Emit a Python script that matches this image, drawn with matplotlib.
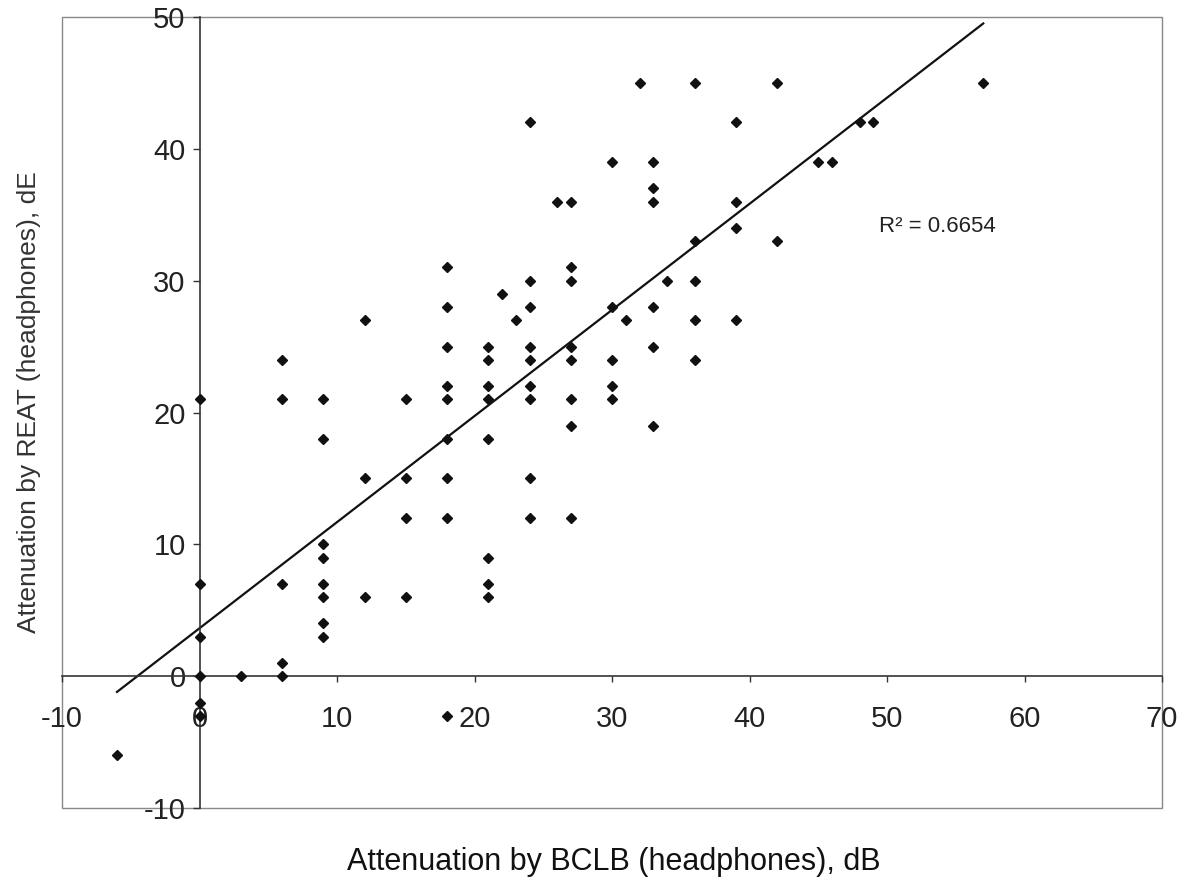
import numpy as np
import matplotlib
matplotlib.use('Agg')
import matplotlib.pyplot as plt
from matplotlib import font_manager
from matplotlib.patches import Rectangle

# Attenuation by BCLB (x) vs REAT (y)
bclb = [-6,
        0, 0, 0, 0, 0, 0,
        3,
        6, 6, 6, 6, 6,
        9, 9, 9, 9, 9, 9, 9, 9,
        12, 12, 12,
        15, 15, 15, 15,
        18, 18, 18, 18, 18, 18, 18, 18, 18,
        21, 21, 21, 21, 21, 21, 21, 21,
        22, 23,
        24, 24, 24, 24, 24, 24, 24, 24, 24,
        26,
        27, 27, 27, 27, 27, 27, 27, 27,
        30, 30, 30, 30, 30,
        31, 32,
        33, 33, 33, 33, 33, 33,
        34,
        36, 36, 36, 36, 36,
        39, 39, 39, 39,
        42, 42,
        45, 46, 48, 49, 57]
reat = [-6,
        21, 7, 3, 0, -2, -3,
        0,
        24, 21, 7, 1, 0,
        21, 18, 10, 9, 7, 6, 4, 3,
        27, 15, 6,
        21, 15, 12, 6,
        31, 28, 25, 22, 21, 18, 15, 12, -3,
        25, 24, 22, 21, 18, 9, 7, 6,
        29, 27,
        42, 30, 28, 25, 24, 22, 21, 15, 12,
        36,
        36, 31, 30, 25, 24, 21, 19, 12,
        39, 28, 24, 22, 21,
        27, 45,
        39, 37, 36, 28, 25, 19,
        30,
        45, 33, 30, 27, 24,
        42, 36, 34, 27,
        45, 33,
        39, 39, 42, 42, 45]

x_ticks = [-10, 0, 10, 20, 30, 40, 50, 60, 70]
y_ticks = [-10, 0, 10, 20, 30, 40, 50]
r2_label = 'R² = 0.6654'

names = {f.name for f in font_manager.fontManager.ttflist}
narrow = 'Liberation Sans Narrow' if 'Liberation Sans Narrow' in names else 'Liberation Sans'
plt.rcParams['font.family'] = ['Liberation Sans', 'DejaVu Sans']
plt.rcParams['axes.unicode_minus'] = False

x = np.array(bclb)
y = np.array(reat)

fig = plt.figure(figsize=(11.88, 8.86), dpi=100)
ax = fig.add_axes([62 / 1188, 1 - 808 / 886, 1100 / 1188, 791 / 886])

ax.plot(x, y, 'D', ms=5.5, color='#111111', zorder=3)

# linear trendline over the data range
slope, icpt = np.polyfit(x, y, 1)
xs = np.array([x.min(), x.max()])
ax.plot(xs, slope * xs + icpt, color='#111111', lw=1.6, zorder=2)

ax.set_xlim(-10, 70)
ax.set_ylim(-10, 50)
ax.set_xticks(x_ticks)
ax.set_yticks(y_ticks)

ax.spines['left'].set_position(('data', 0))
ax.spines['bottom'].set_position(('data', 0))
ax.spines['top'].set_visible(False)
ax.spines['right'].set_visible(False)
for s in ['left', 'bottom']:
    ax.spines[s].set_color('#333333')
    ax.spines[s].set_linewidth(1.2)

ax.add_patch(Rectangle((0, 0), 1, 1, transform=ax.transAxes, fill=False,
                       ec='#888888', lw=1.0, clip_on=False, zorder=1))

ax.tick_params(axis='x', direction='out', length=4, width=1, pad=17,
               colors='#333333', labelcolor='#222222')
ax.tick_params(axis='y', direction='out', length=5, width=1, pad=5,
               colors='#333333', labelcolor='#222222')
for lab in ax.get_xticklabels() + ax.get_yticklabels():
    lab.set_family([narrow, 'DejaVu Sans'])
    lab.set_fontsize(21)

ax.text(49.4, 34.1, r2_label, fontsize=16, family=[narrow, 'DejaVu Sans'],
        color='#222222', va='center', ha='left')

fig.text(614 / 1188, 1 - 862 / 886, 'Attenuation by BCLB (headphones), dB',
         fontsize=22, ha='center', va='center', color='#111111')
fig.text(29 / 1188, 1 - 402 / 886, 'Attenuation by REAT (headphones), dE',
         fontsize=19, ha='center', va='center', rotation=90, color='#333333')

fig.savefig('out.png', dpi=100, facecolor='white')
